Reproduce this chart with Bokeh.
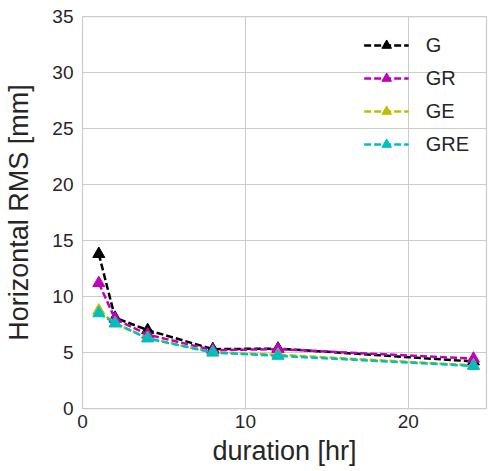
from bokeh.plotting import figure
from bokeh.embed import file_html
from bokeh.resources import INLINE
from bokeh.models import Range1d, FixedTicker, Legend, LegendItem

duration = [1, 2, 4, 8, 12, 24]
series_names = ["G", "GR", "GE", "GRE"]
g_vals = [13.8, 8.1, 7.0, 5.3, 5.35, 4.2]
gr_vals = [11.2, 8.0, 6.6, 5.2, 5.3, 4.45]
ge_vals = [8.75, 7.6, 6.3, 5.0, 4.8, 3.85]
gre_vals = [8.5, 7.6, 6.25, 5.0, 4.7, 3.8]
colors = ["#000000", "#bf00bf", "#bfbf00", "#00bfbf"]
x_ticks = [0, 10, 20]
y_ticks = [0, 5, 10, 15, 20, 25, 30, 35]

FONT = "Liberation Sans"
TXT = "#262626"
GRID = "#cccccc"

p = figure(width=489, height=471, output_backend="svg", toolbar_location=None,
           x_range=Range1d(0, 24.8), y_range=Range1d(0, 35),
           min_border_left=82, min_border_right=3, min_border_top=16, min_border_bottom=63)
p.background_fill_color = "white"
p.border_fill_color = "white"
p.outline_line_color = GRID
p.outline_line_width = 1.25

for ax in (p.xaxis[0], p.yaxis[0]):
    ax.axis_line_color = None
    ax.major_tick_line_color = None
    ax.minor_tick_line_color = None
    ax.major_tick_in = 0
    ax.major_tick_out = 0
    ax.minor_tick_in = 0
    ax.minor_tick_out = 0
    ax.major_label_text_font = FONT
    ax.major_label_text_font_size = "19px"
    ax.major_label_text_color = TXT
    ax.axis_label_text_font = FONT
    ax.axis_label_text_font_size = "27px"
    ax.axis_label_text_font_style = "normal"
    ax.axis_label_text_color = TXT

p.xaxis.ticker = FixedTicker(ticks=x_ticks)
p.yaxis.ticker = FixedTicker(ticks=y_ticks)
p.xaxis.axis_label = "duration [hr]"
p.yaxis.axis_label = "Horizontal RMS [mm]"
p.xaxis.major_label_standoff = 6
p.yaxis.major_label_standoff = 9
p.xaxis.axis_label_standoff = 5
p.yaxis.axis_label_standoff = 15

p.xgrid.grid_line_color = GRID
p.ygrid.grid_line_color = GRID
p.xgrid.grid_line_width = 1
p.ygrid.grid_line_width = 1

items = []
for name, vals, col in zip(series_names, [g_vals, gr_vals, ge_vals, gre_vals], colors):
    r1 = p.line(duration, vals, line_color=col, line_width=2.5, line_dash="7 3")
    r2 = p.scatter(duration, vals, marker="triangle", size=12, fill_color=col, line_color=col)
    items.append(LegendItem(label=name, renderers=[r1, r2]))

legend = Legend(items=items, location="top_right")
legend.label_text_font = FONT
legend.label_text_font_size = "20px"
legend.label_text_color = TXT
legend.background_fill_alpha = 0
legend.border_line_alpha = 0
legend.glyph_width = 45
legend.glyph_height = 24
legend.spacing = 9
legend.label_standoff = 17
legend.margin = 11
legend.padding = 6
p.add_layout(legend)

open("out.html", "w").write(file_html(p, INLINE))
